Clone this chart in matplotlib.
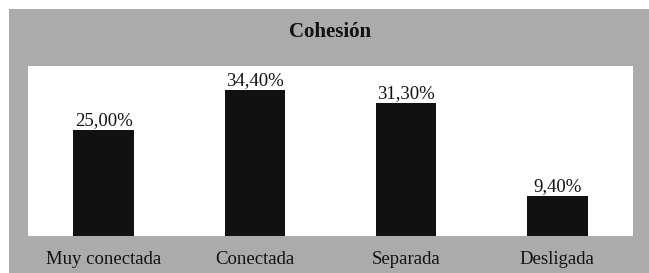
import matplotlib.pyplot as plt
from matplotlib.patches import Rectangle

categorias = ["Muy conectada", "Conectada", "Separada", "Desligada"]
valores = [25.0, 34.4, 31.3, 9.4]
etiquetas = ["25,00%", "34,40%", "31,30%", "9,40%"]

plt.rcParams['font.family'] = ['Liberation Serif', 'DejaVu Serif']

W, H = 649, 273
fig = plt.figure(figsize=(W / 100, H / 100), dpi=100)
fig.patch.set_facecolor('white')
# fondo gris (deja una franja blanca arriba y a la izquierda)
fig.patches.append(Rectangle((9 / W, 0), 1 - 9 / W, 1 - 9 / H, transform=fig.transFigure,
                             facecolor='#ababab', edgecolor='none', zorder=-1))

ax = fig.add_axes([28 / W, 37 / H, 605 / W, 170 / H])
ax.set_zorder(1)
ax.set_facecolor('white')
x = range(len(categorias))
bars = ax.bar(x, valores, width=0.4, color='#111111')
for b, t in zip(bars, etiquetas):
    ax.annotate(t, (b.get_x() + b.get_width() / 2, b.get_height()), xytext=(0, 0.5),
                textcoords='offset points', ha='center', va='bottom', fontsize=13.5, color='#111111')

ax.set_xlim(-0.5, 3.5)
ax.set_ylim(0, 40)
ax.set_xticks(list(x))
ax.set_xticklabels(categorias, fontsize=13.5, color='#111111')
ax.tick_params(axis='x', length=0, pad=10.5)
ax.set_yticks([])
for s in ax.spines.values():
    s.set_visible(False)

fig.text((28 + 605 / 2) / W, 1 - 32 / H, "Cohesión", ha='center', va='center',
         fontsize=15, fontweight='bold', color='#111111')

fig.savefig('out.png', dpi=100)
